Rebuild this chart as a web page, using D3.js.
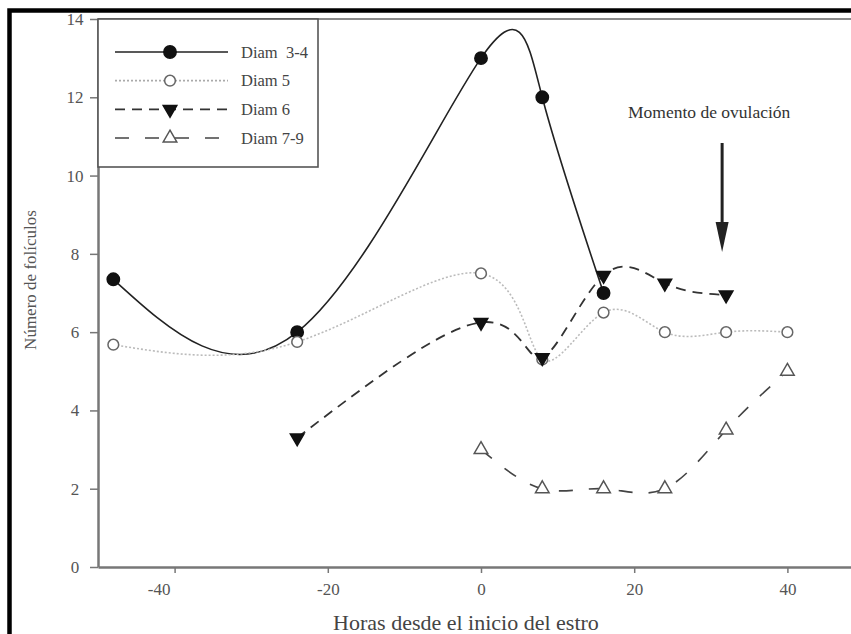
<!DOCTYPE html>
<html>
<head>
<meta charset="utf-8">
<script src="https://cdnjs.cloudflare.com/ajax/libs/d3/7.8.5/d3.min.js"></script>
<style>
  body { margin: 0; background: #fff; }
  svg { display: block; font-family: "Liberation Serif", "DejaVu Serif", serif; }
  .axis text { fill: #555; font-size: 17px; font-family: "Liberation Serif", "DejaVu Serif", serif; }
  .axis path, .axis line { stroke: #777; }
  .legend text { white-space: pre; }
</style>
</head>
<body>
<script>
// data (hours since start of oestrus)
const hours = [-48, -24, 0, 8, 16, 24, 32, 40];
const diam34 = [7.35, 6.0, 13.0, 12.0, 7.0, null, null, null];
const diam5 = [5.68, 5.75, 7.5, 5.3, 6.5, 6.0, 6.0, 6.0];
const diam6 = [null, 3.3, 6.25, 5.35, 7.45, 7.25, 6.95, null];
const diam79 = [null, null, 3.0, 2.0, 2.0, 2.0, 3.5, 5.0];
const seriesNames = ['Diam  3-4', 'Diam 5', 'Diam 6', 'Diam 7-9'];
const xTicks = [-40, -20, 0, 20, 40];
const yTicks = [0, 2, 4, 6, 8, 10, 12, 14];
const ovulationHour = 32;

const W = 851, H = 634;
const margin = { left: 98, top: 19, bottom: 67 };

const svg = d3.select('body').append('svg')
  .attr('width', W)
  .attr('height', H);

/* outer black frame */
svg.append('path')
  .attr('d', `M9.5,${H} V10.5 H${W + 5}`)
  .attr('fill', 'none')
  .attr('stroke', '#000')
  .attr('stroke-width', 4.5);

const x = d3.scaleLinear().domain([-50, 50]).range([margin.left, 864]);
const y = d3.scaleLinear().domain([0, 14]).range([H - margin.bottom, margin.top]);

/* top frame line */
svg.append('line')
  .attr('x1', x(-50)).attr('x2', W)
  .attr('y1', y(14)).attr('y2', y(14))
  .attr('stroke', '#8a8a8a')
  .attr('stroke-width', 2);

/* axes */
const xAxis = d3.axisBottom(x).tickValues(xTicks).tickSize(6).tickSizeOuter(0).tickPadding(10)
  .tickFormat(d => String(d));
const gx = svg.append('g')
  .attr('class', 'axis')
  .attr('transform', `translate(0,${y(0)})`)
  .call(xAxis);
gx.select('.domain').attr('stroke-width', 2.5);
gx.selectAll('.tick line').attr('stroke-width', 1.5);
gx.selectAll('.tick text').filter(d => d === -40).attr('dx', -16);

const yAxis = d3.axisLeft(y).tickValues(yTicks).tickSize(8).tickSizeOuter(0).tickPadding(15);
const gy = svg.append('g')
  .attr('class', 'axis')
  .attr('transform', `translate(${x(-50)},0)`)
  .call(yAxis);
gy.select('.domain').attr('stroke-width', 2.5);
gy.selectAll('.tick line').attr('stroke-width', 1.5);
// labels sit centred in the gutter, not right-aligned
gy.selectAll('.tick text').attr('text-anchor', 'middle').attr('x', -23);

svg.append('text')
  .attr('x', 466)
  .attr('y', 630)
  .attr('text-anchor', 'middle')
  .attr('fill', '#444')
  .style('font-size', '22px')
  .text('Horas desde el inicio del estro');

svg.append('text')
  .attr('transform', `translate(36,280) rotate(-90)`)
  .attr('text-anchor', 'middle')
  .attr('fill', '#555')
  .style('font-size', '17px')
  .text('Número de folículos');

/* series */
const series = [
  { name: seriesNames[0], values: diam34, color: '#222', width: 1.6, dash: null, symbol: d3.symbolCircle, size: 120, fill: '#111', stroke: '#111' },
  { name: seriesNames[1], values: diam5, color: '#bbb', width: 1.6, dash: '2,2', symbol: d3.symbolCircle, size: 90, fill: '#fff', stroke: '#666' },
  { name: seriesNames[2], values: diam6, color: '#333', width: 1.8, dash: '10,7', symbol: d3.symbolTriangle, size: 80, fill: '#111', stroke: '#111', rotate: 180 },
  { name: seriesNames[3], values: diam79, color: '#444', width: 1.6, dash: '14,16', symbol: d3.symbolTriangle, size: 80, fill: '#fff', stroke: '#555' }
];

const line = d3.line()
  .defined(d => d.v != null)
  .x(d => x(d.h))
  .y(d => y(d.v))
  .curve(d3.curveNatural);

series.forEach(s => {
  const pts = hours.map((h, i) => ({ h: h, v: s.values[i] })).filter(d => d.v != null);
  svg.append('path')
    .datum(pts)
    .attr('d', line)
    .attr('fill', 'none')
    .attr('stroke', s.color)
    .attr('stroke-width', s.width)
    .attr('stroke-dasharray', s.dash);
});

// markers drawn after lines so they sit on top
series.forEach(s => {
  const pts = hours.map((h, i) => ({ h: h, v: s.values[i] })).filter(d => d.v != null);
  svg.append('g').selectAll('path')
    .data(pts)
    .enter().append('path')
    .attr('d', d3.symbol().type(s.symbol).size(s.size))
    .attr('transform', d => `translate(${x(d.h)},${y(d.v)})` + (s.rotate ? ` rotate(${s.rotate})` : ''))
    .attr('fill', s.fill)
    .attr('stroke', s.stroke)
    .attr('stroke-width', 1.5);
});

/* ovulation arrow */
const arrowX = x(ovulationHour) - 4;
svg.append('line')
  .attr('x1', arrowX).attr('x2', arrowX)
  .attr('y1', 143).attr('y2', 235)
  .attr('stroke', '#222')
  .attr('stroke-width', 3);
svg.append('path')
  .attr('d', `M${arrowX - 6.5},222 L${arrowX + 6.5},222 L${arrowX},252 Z`)
  .attr('fill', '#222');
svg.append('text')
  .attr('x', arrowX - 13)
  .attr('y', 118)
  .attr('text-anchor', 'middle')
  .attr('fill', '#333')
  .style('font-size', '17.5px')
  .text('Momento de ovulación');

/* legend */
const legend = svg.append('g').attr('class', 'legend');
legend.append('rect')
  .attr('x', x(-50)).attr('y', y(14))
  .attr('width', 220).attr('height', 148)
  .attr('fill', '#fff')
  .attr('stroke', '#555')
  .attr('stroke-width', 1.6);

const rowY = d3.scalePoint().domain(seriesNames).range([52, 138]);
series.forEach(s => {
  const ry = rowY(s.name);
  legend.append('line')
    .attr('x1', 115).attr('x2', 228)
    .attr('y1', ry).attr('y2', ry)
    .attr('stroke', s.color === '#bbb' ? '#aaa' : s.color)
    .attr('stroke-width', s.width)
    .attr('stroke-dasharray', s.dash);
  legend.append('path')
    .attr('d', d3.symbol().type(s.symbol).size(s.size))
    .attr('transform', `translate(170,${ry})` + (s.rotate ? ` rotate(${s.rotate})` : ''))
    .attr('fill', s.fill)
    .attr('stroke', s.stroke)
    .attr('stroke-width', 1.5);
  legend.append('text')
    .attr('x', 241)
    .attr('y', ry)
    .attr('dy', '0.35em')
    .attr('fill', '#444')
    .style('font-size', '16.5px')
    .text(s.name);
});
</script>
</body>
</html>
